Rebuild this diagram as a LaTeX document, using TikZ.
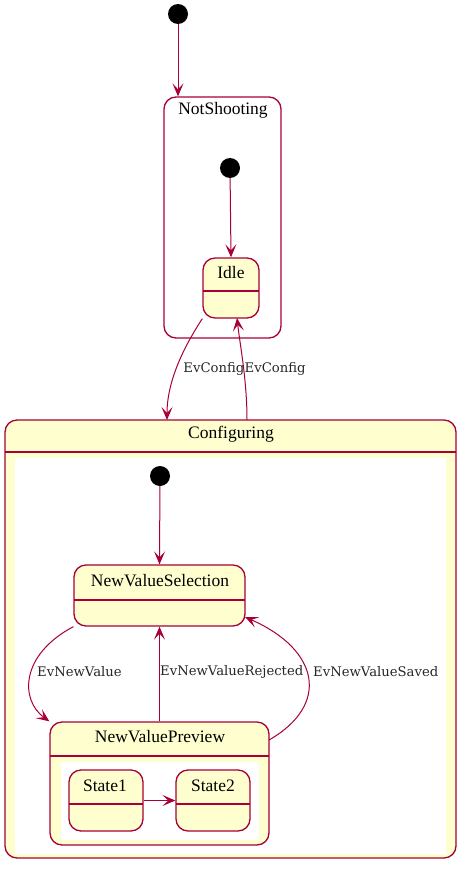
\documentclass[tikz,border=0pt]{standalone}
\usepackage{fontspec}
\setmainfont{Liberation Serif}
\newfontfamily\lblfont{DejaVu Serif}
\usetikzlibrary{arrows.meta}
\definecolor{umlred}{HTML}{A80036}
\definecolor{umlfill}{HTML}{FEFECE}
\begin{document}
\begin{tikzpicture}[x=1pt,y=-1pt]
                      \tikzstyle{state}=[draw=umlred,line width=1.3pt,rounded corners=12pt,fill=umlfill,inner sep=0pt]
                      \tikzstyle{startdot}=[circle,fill=black,inner sep=0pt,minimum size=20pt]
                      \tikzstyle{trans}=[draw=umlred,line width=1pt,-{Stealth[length=13pt,width=11pt,inset=6pt]}]
                      \tikzstyle{sepline}=[draw=umlred,line width=1.3pt]
                      \tikzstyle{stname}=[font=\fontsize{17.5}{20}\selectfont,inner sep=0pt]
                      \tikzstyle{lbl}=[font=\lblfont\fontsize{13.2}{15}\selectfont,inner sep=0pt,text=black!85]
                      \useasboundingbox (0,0) rectangle (461,875);
                      % outer states
                      \node[state,fill=white,minimum width=117pt,minimum height=241pt] (ns) at (222.5,217.5) {};
                      \node[stname] at (223,110) {NotShooting};
                      \node[state,minimum width=451pt,minimum height=438pt] (conf) at (230.5,639) {};
                      \fill[white] (15,458) rectangle (446,854);
                      \draw[sepline] (5,452) -- (456,452);
                      \node[stname] at (231,434) {Configuring};
                      % inner states
                      \node[state,minimum width=56pt,minimum height=60pt] (idle) at (231,288) {};
                      \draw[sepline] (203,291) -- (259,291);
                      \node[stname] at (231,273) {Idle};
                      \node[state,minimum width=171pt,minimum height=61pt] (nvs) at (159.5,595.5) {};
                      \draw[sepline] (74,600) -- (245,600);
                      \node[stname] at (160,581) {NewValueSelection};
                      \node[state,minimum width=219pt,minimum height=123pt] (nvp) at (159.5,783.5) {};
                      \fill[white] (61,762) rectangle (259,840);
                      \draw[sepline] (50,756) -- (269,756);
                      \node[stname] at (160,737) {NewValuePreview};
                      \node[state,minimum width=74pt,minimum height=61pt] (sa) at (106,800.5) {};
                      \draw[sepline] (69,804) -- (143,804);
                      \node[stname] at (105,786) {State1};
                      \node[state,minimum width=74pt,minimum height=61pt] (sb) at (213,800.5) {};
                      \draw[sepline] (176,804) -- (250,804);
                      \node[stname] at (213,786) {State2};
                      % initial points
                      \node[startdot] (i1) at (178,14) {};
                      \node[startdot] (i2) at (230,168) {};
                      \node[startdot] (i3) at (160,476) {};
                      \coordinate (c1) at (167,420);
                      \coordinate (c2) at (247,420);
                      \coordinate (c3) at (237,318);
                      \coordinate (d1) at (269,740);
                      \coordinate (d2) at (245,617);
                      % transitions
                      \draw[trans] (i1) -- (i1 |- ns.north);
                      \draw[trans] (i2) -- (idle.north);
                      \draw[trans] (i3) -- (nvs.north);
                      \draw[trans] (idle.south west) .. controls (185,345) and (167,380) .. (c1);
                      \draw[trans] (c2) .. controls (247,380) and (240,345) .. (c3);
                      \draw[trans] (nvs.south west) .. controls (20,655) and (20,700) .. (nvp.north west);
                      \draw[trans] (nvp.north) -- (nvs.south);
                      \draw[trans] (d1) .. controls (330,705) and (320,650) .. (d2);
                      \draw[trans] (sa) -- (sb);
                      \node[lbl,anchor=east] (l1) at (244.5,369) {EvConfig};
                      \node[lbl,anchor=west] (l2) at (244.5,369) {EvConfig};
                      \node[lbl,anchor=west] (l3) at (37,672) {EvNewValue};
                      \node[lbl,anchor=west] (l4) at (160,672) {EvNewValueRejected};
                      \node[lbl,anchor=west] (l5) at (313,672) {EvNewValueSaved};
                  \end{tikzpicture}
\end{document}
